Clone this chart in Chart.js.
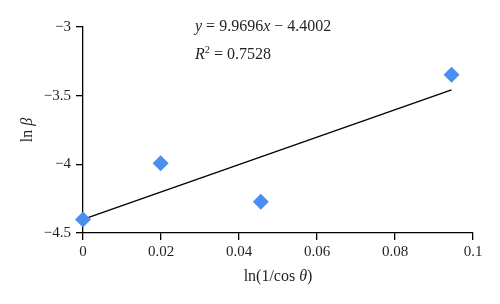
<!DOCTYPE html>
<html>
<head>
<meta charset="utf-8">
<script src="https://cdn.jsdelivr.net/npm/chart.js@4/dist/chart.umd.min.js"></script>
<style>
  html, body { margin: 0; padding: 0; background: #fff; }
  #wrap { width: 500px; height: 304px; }
</style>
</head>
<body>
<div id="wrap"><canvas id="grafico"></canvas></div>
<script>
// data
var xValues = [0, 0.0199, 0.0456, 0.0945];
var yValues = [-4.401, -3.993, -4.273, -3.348];
// trend line end points (y = 9.9696x - 4.4002)
var trendX = [0, 0.0945];
var trendY = [-4.4002, -3.4581];
var xTicks = [0, 0.02, 0.04, 0.06, 0.08, 0.1];
var yTicks = [-4.5, -4, -3.5, -3];
var equationText = [['y', true], [' = 9.9696', false], ['x', true], [' \u2212 4.4002', false]];
var r2Text = [['R', true], ['2', false, 'sup'], [' = 0.7528', false]];
var xTitle = [['ln(1/cos ', false], ['\u03b8', true], [')', false]];
var yTitle = [['ln ', false], ['\u03b2', true]];

var serif = '"Liberation Serif", "DejaVu Serif", serif';
var ink = '#231f20';

function puntos(xs, ys) {
    return xs.map(function(x, i) { return { x: x, y: ys[i] }; });
}

function fmt(v) {
    return String(v).replace('-', '\u2212');
}

// draw a text made of normal / italic pieces
function textoMixto(ctx, partes, x, y, size, centrado) {
    var ancho = 0;
    partes.forEach(function(p) {
        ctx.font = (p[1] ? 'italic ' : '') + (p[2] ? size * 0.65 : size) + 'px ' + serif;
        ancho += ctx.measureText(p[0]).width;
    });
    var cx = centrado ? x - ancho / 2 : x;
    partes.forEach(function(p) {
        ctx.font = (p[1] ? 'italic ' : '') + (p[2] ? size * 0.65 : size) + 'px ' + serif;
        ctx.fillText(p[0], cx, p[2] ? y - size * 0.4 : y);
        cx += ctx.measureText(p[0]).width;
    });
}

var textos = {
    id: 'textos',
    afterDraw: function(chart) {
        var ctx = chart.ctx;
        var area = chart.chartArea;
        ctx.save();
        ctx.fillStyle = ink;
        ctx.textBaseline = 'alphabetic';
        ctx.textAlign = 'left';
        textoMixto(ctx, equationText, 195, 31, 16, false);
        textoMixto(ctx, r2Text, 195, 59, 16, false);
        textoMixto(ctx, xTitle, (area.left + area.right) / 2, 281, 16, true);
        ctx.translate(32, (area.top + area.bottom) / 2);
        ctx.rotate(-Math.PI / 2);
        textoMixto(ctx, yTitle, 0, 0, 16, true);
        ctx.restore();
    }
};

var ctx = document.getElementById('grafico').getContext('2d');

var datos = {
    datasets: [{
        type: 'scatter',
        label: 'datos',
        data: puntos(xValues, yValues),
        pointStyle: 'rectRot',
        pointRadius: 8,
        pointHoverRadius: 8,
        backgroundColor: '#4a8ff0',
        borderColor: '#4a8ff0',
        borderWidth: 0,
        clip: false,
        order: 1
    }, {
        type: 'line',
        label: 'tendencia',
        data: puntos(trendX, trendY),
        borderColor: '#000',
        borderWidth: 1.3,
        pointRadius: 0,
        fill: false,
        clip: false,
        order: 2
    }]
};

var configuracion = {
    type: 'scatter',
    data: datos,
    options: {
        responsive: true,
        maintainAspectRatio: false,
        animation: false,
        layout: { padding: { left: 0, right: 27, top: 27, bottom: 0 } },
        plugins: { legend: { display: false }, tooltip: { enabled: false } },
        scales: {
            x: {
                type: 'linear',
                min: 0, max: 0.1,
                afterFit: function(s) { s.height = 71; },
                afterBuildTicks: function(s) { s.ticks = xTicks.map(function(v) { return { value: v }; }); },
                border: { display: true, color: '#000', width: 1.3 },
                grid: { display: true, drawOnChartArea: false, drawTicks: true, tickLength: 7, color: '#000', lineWidth: 1.3 },
                ticks: {
                    color: ink, padding: 3, maxRotation: 0,
                    font: { family: serif, size: 15 },
                    callback: function(v) { return fmt(v); }
                }
            },
            y: {
                type: 'linear',
                min: -4.5, max: -3,
                afterFit: function(s) { s.width = 83; },
                afterBuildTicks: function(s) { s.ticks = yTicks.map(function(v) { return { value: v }; }); },
                border: { display: true, color: '#000', width: 1.3 },
                grid: { display: true, drawOnChartArea: false, drawTicks: true, tickLength: 7, color: '#000', lineWidth: 1.3 },
                ticks: {
                    color: ink, padding: 5,
                    font: { family: serif, size: 15 },
                    callback: function(v) { return fmt(v); }
                }
            }
        }
    },
    plugins: [textos]
};

var miGrafico = new Chart(ctx, configuracion);
</script>
</body>
</html>
